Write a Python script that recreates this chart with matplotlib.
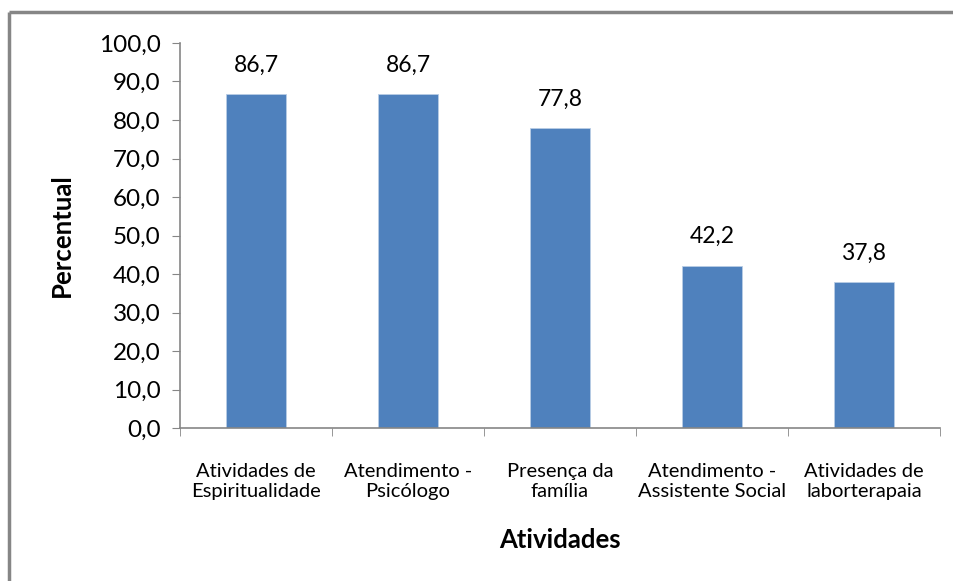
import matplotlib.pyplot as plt
from matplotlib.lines import Line2D

categorias = ['Atividades de\nEspiritualidade', 'Atendimento -\nPsicólogo',
              'Presença da\nfamília', 'Atendimento -\nAssistente Social',
              'Atividades de\nlaborterapaia']
percentual = [86.7, 86.7, 77.8, 42.2, 37.8]

plt.rcParams['font.family'] = ['Lato', 'DejaVu Sans']

fig = plt.figure(figsize=(9.54, 5.81), dpi=100)
ax = fig.add_axes([0.1887, 0.2633, 0.7966, 0.6627])

x = range(len(categorias))
ax.bar(x, percentual, width=0.4, color='#4F81BD', edgecolor='#B9CDE5', linewidth=0.6)
for i, v in zip(x, percentual):
    ax.text(i, v + 4.8, ('%.1f' % v).replace('.', ','), ha='center', va='bottom', fontsize=16.5)

ax.set_xlim(-0.5, len(categorias) - 0.5)
ax.set_ylim(0, 100)
ax.set_yticks(range(0, 101, 10))
ax.set_yticklabels([('%.1f' % t).replace('.', ',') for t in range(0, 101, 10)], fontsize=17.5)
ax.set_xticks(list(x))
ax.set_xticklabels(categorias, fontsize=14.5, linespacing=1.2)
ax.set_xticks([i - 0.5 for i in range(len(categorias) + 1)], minor=True)
ax.tick_params(axis='x', which='major', length=0, pad=25)
ax.tick_params(axis='x', which='minor', length=6, direction='out', color='#868686')
ax.tick_params(axis='y', length=6, direction='out', color='#868686', pad=8)

for s in ['top', 'right']:
    ax.spines[s].set_visible(False)
for s in ['left', 'bottom']:
    ax.spines[s].set_color('#868686')
    ax.spines[s].set_linewidth(1.2)

ax.set_ylabel('Percentual', fontsize=18.5, fontweight='bold')
ax.yaxis.set_label_coords(-0.14, 0.5)
fig.text(0.587, 0.07, 'Atividades', fontsize=18.5, fontweight='bold', ha='center', va='center')

# moldura da figura (so esquerda e topo aparecem)
fig.add_artist(Line2D([0.0094, 0.0094], [-0.01, 0.979], transform=fig.transFigure,
                      color='#868686', lw=2.5, solid_capstyle='butt'))
fig.add_artist(Line2D([0.0094, 1.01], [0.979, 0.979], transform=fig.transFigure,
                      color='#868686', lw=2.5, solid_capstyle='butt'))

fig.savefig('out.png', dpi=100)
